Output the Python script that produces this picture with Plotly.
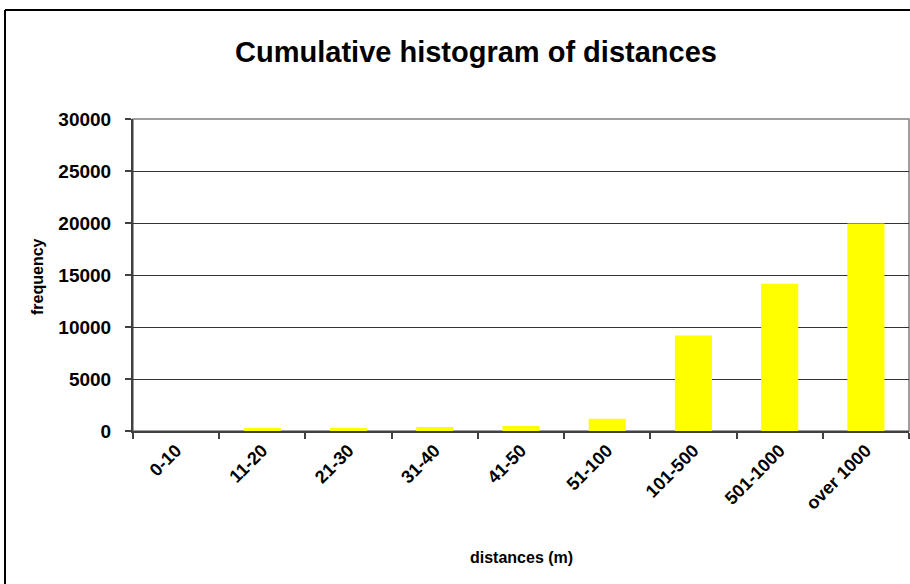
import plotly.graph_objects as go

categories = ["0-10", "11-20", "21-30", "31-40", "41-50", "51-100", "101-500", "501-1000", "over 1000"]
frequency = [0, 290, 280, 380, 480, 1180, 9180, 14160, 19950]
y_ticks = [0, 5000, 10000, 15000, 20000, 25000, 30000]

FONT = "Liberation Sans, Arial, sans-serif"
W, H = 910, 584
L, R, T, B = 133, 1, 119, 153
pw = W - L - R
ph = H - T - B

fig = go.Figure(go.Bar(
    x=categories, y=frequency,
    marker=dict(color="#FFFF00", line=dict(width=0)),
    width=0.43,
))

def px_x(x):
    return (x - L) / pw

def px_y(y):
    return (H - B - y) / ph

fig.update_layout(
    width=W, height=H,
    margin=dict(l=L, r=R, t=T, b=B, pad=0),
    paper_bgcolor="white", plot_bgcolor="white",
    showlegend=False,
    title=dict(text="Cumulative histogram of distances",
               font=dict(family=FONT, size=29, color="black", weight="bold"),
               x=476 / W, xanchor="center", xref="container",
               y=1 - 52 / H, yanchor="middle", yref="container"),
    xaxis=dict(
        tickangle=-45,
        tickfont=dict(family=FONT, size=18, color="black", weight="bold"),
        showline=True, linecolor="#404040", linewidth=2,
        ticks="outside", ticklen=6, tickcolor="#404040", tickwidth=2,
        tickson="boundaries",
        showgrid=False,
        range=[-0.5, 8.5],
    ),
    yaxis=dict(
        range=[0, 30000],
        tickvals=y_ticks,
        tickformat="d",
        tickfont=dict(family=FONT, size=19, color="black", weight="bold"),
        ticklabelstandoff=10,
        showline=True, linecolor="#404040", linewidth=2,
        ticks="outside", ticklen=6, tickcolor="#404040", tickwidth=2,
        showgrid=True, gridcolor="#333333", gridwidth=1,
        zeroline=False,
    ),
)

# axis titles
fig.add_annotation(text="distances (m)", xref="paper", yref="paper",
                   x=px_x(521), y=px_y(557), xanchor="center", yanchor="middle",
                   showarrow=False,
                   font=dict(family=FONT, size=16, color="black", weight="bold"))
fig.add_annotation(text="frequency", xref="paper", yref="paper",
                   x=px_x(37), y=px_y(277), xanchor="center", yanchor="middle",
                   textangle=-90, showarrow=False,
                   font=dict(family=FONT, size=16, color="black", weight="bold"))

# plot area border (top/right in gray)
fig.add_shape(type="rect", xref="paper", yref="paper", x0=0, x1=1, y0=0, y1=1,
              line=dict(color="#808080", width=1.5), layer="below")
# outer chart border (top and left visible)
fig.add_shape(type="line", xref="paper", yref="paper",
              x0=px_x(5), x1=px_x(912), y0=px_y(10), y1=px_y(10),
              line=dict(color="black", width=2))
fig.add_shape(type="line", xref="paper", yref="paper",
              x0=px_x(5), x1=px_x(5), y0=px_y(10), y1=px_y(590),
              line=dict(color="black", width=2))

fig.write_html("out.html",
               config={"displayModeBar": False},
               post_script="document.body.style.margin='0';document.body.style.overflow='hidden';")
